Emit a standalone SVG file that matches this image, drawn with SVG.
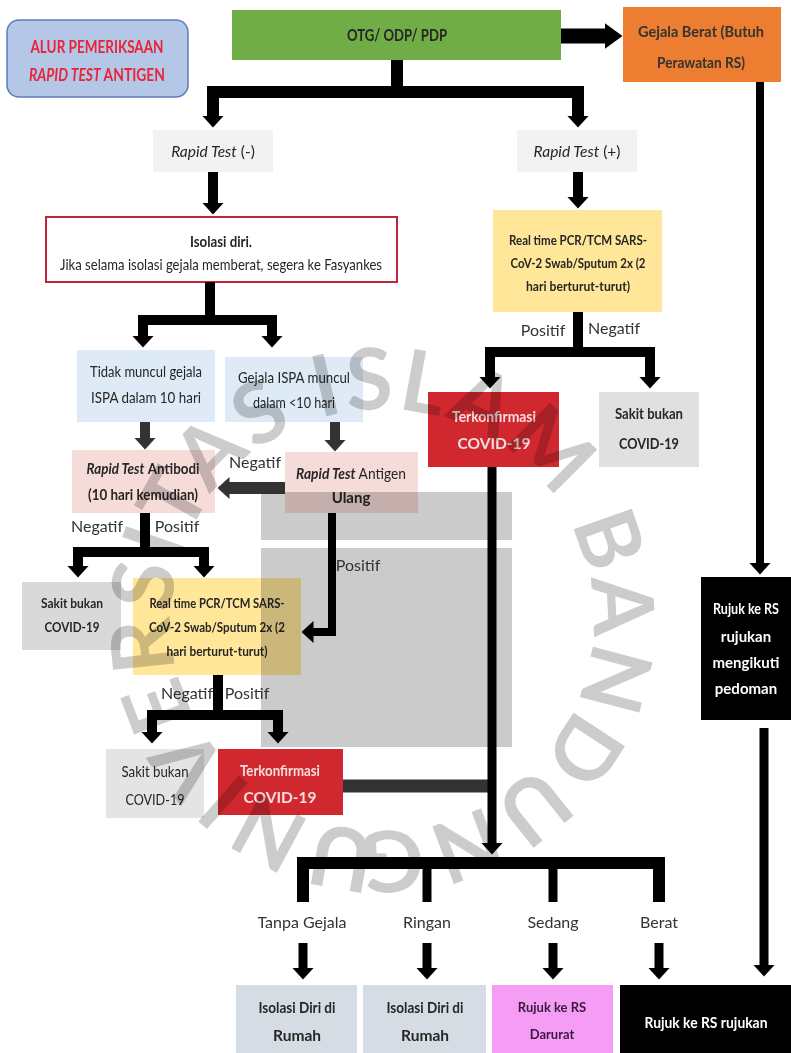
<svg xmlns="http://www.w3.org/2000/svg" width="791" height="1053" viewBox="0 0 791 1053">
<defs>
<style>
text{font-family:Lato,"Liberation Sans",sans-serif;fill:#262626;text-anchor:middle;font-size:14px}
.b{font-weight:bold}
.i{font-style:italic}
.lbl{font-size:16px;fill:#333}
.w{fill:#f6dede;font-weight:bold;font-size:15.5px}
.title{fill:#e8243a;font-weight:bold;font-size:16.5px}
.ln{fill:none;stroke:#000;stroke-width:10;stroke-linejoin:miter}
.dg{stroke:#333}
.ov{fill:#cbcbcb;mix-blend-mode:multiply}
.wm{font-family:Lato,"Liberation Sans",sans-serif;font-weight:bold;font-size:85px;fill:#cccccc;letter-spacing:3px;text-anchor:start;mix-blend-mode:multiply}
</style>
<marker id="ah" viewBox="0 0 12 22" markerWidth="12" markerHeight="22" refX="0.5" refY="11" orient="auto" markerUnits="userSpaceOnUse"><path d="M0,0 L12,11 L0,22 z" fill="#000"/></marker>
<marker id="ahg" viewBox="0 0 12 22" markerWidth="12" markerHeight="22" refX="0.5" refY="11" orient="auto" markerUnits="userSpaceOnUse"><path d="M0,0 L12,11 L0,22 z" fill="#333"/></marker>
<marker id="ahL" viewBox="0 0 18 26" markerWidth="18" markerHeight="26" refX="0.5" refY="13" orient="auto" markerUnits="userSpaceOnUse"><path d="M0,0 L18,13 L0,26 z" fill="#000"/></marker>
<path id="wmc" d="M382,831 A211,211 0 0,1 382,409 A211,211 0 0,1 382,831"/>
</defs>
<rect width="791" height="1053" fill="#fff"/>

<g id="title">
<rect x="7" y="20" width="181" height="77" rx="12" fill="#b4c7e7" stroke="#5b7db5" stroke-width="1.5"/>
<text x="97" y="53" class="title" textLength="133" lengthAdjust="spacingAndGlyphs">ALUR PEMERIKSAAN</text>
<text x="97" y="81" class="title" textLength="136" lengthAdjust="spacingAndGlyphs"><tspan class="i">RAPID TEST</tspan> ANTIGEN</text>
</g>
<g id="otg">
<rect x="232" y="10" width="329" height="50" fill="#70ad47"/>
<text x="397" y="41" class="b" style="font-size:17px" textLength="100" lengthAdjust="spacingAndGlyphs">OTG/ ODP/ PDP</text>
</g>
<g id="gejala-berat">
<rect x="623" y="7" width="158" height="75" fill="#ed7d31"/>
<text x="701" y="37" class="b" style="font-size:16px;fill:#333" textLength="126" lengthAdjust="spacingAndGlyphs">Gejala Berat (Butuh</text>
<text x="701" y="68" class="b" style="font-size:16px;fill:#333" textLength="88" lengthAdjust="spacingAndGlyphs">Perawatan RS)</text>
</g>
<g id="rapid-neg">
<rect x="153" y="130" width="120" height="42" fill="#f2f2f2"/>
<text x="213" y="157" style="font-size:15.5px"><tspan class="i">Rapid Test</tspan> (-)</text>
</g>
<g id="rapid-pos">
<rect x="517" y="130" width="120" height="42" fill="#f2f2f2"/>
<text x="577" y="157" style="font-size:15.5px"><tspan class="i">Rapid Test</tspan> (+)</text>
</g>
<g id="isolasi">
<rect x="46" y="217" width="351" height="65" fill="#fff" stroke="#c0263a" stroke-width="2"/>
<text x="221" y="247" class="b" style="font-size:15px" textLength="62" lengthAdjust="spacingAndGlyphs">Isolasi diri.</text>
<text x="221" y="270" style="font-size:15px" textLength="322" lengthAdjust="spacingAndGlyphs">Jika selama isolasi gejala memberat, segera ke Fasyankes</text>
</g>
<g id="tidak-muncul">
<rect x="77" y="350" width="138" height="72" fill="#deebf7"/>
<text x="146" y="377" style="font-size:15px" textLength="112" lengthAdjust="spacingAndGlyphs">Tidak muncul gejala</text>
<text x="146" y="403" style="font-size:15px" textLength="110" lengthAdjust="spacingAndGlyphs">ISPA dalam 10 hari</text>
</g>
<g id="gejala-ispa">
<rect x="225" y="357" width="138" height="65" fill="#deebf7"/>
<text x="294" y="383" style="font-size:15px" textLength="112" lengthAdjust="spacingAndGlyphs">Gejala ISPA muncul</text>
<text x="294" y="408" style="font-size:15px" textLength="82" lengthAdjust="spacingAndGlyphs">dalam &lt;10 hari</text>
</g>
<g id="antibodi">
<rect x="72" y="450" width="143" height="63" fill="#f6dcd8"/>
<text x="143" y="474" style="font-size:15px" textLength="113" lengthAdjust="spacingAndGlyphs"><tspan class="i b">Rapid Test</tspan> <tspan class="b">Antibodi</tspan></text>
<text x="143" y="500" class="b" style="font-size:15px" textLength="110" lengthAdjust="spacingAndGlyphs">(10 hari kemudian)</text>
</g>
<g id="antigen">
<rect x="285" y="452" width="133" height="61" fill="#f6dcd8"/>
<text x="351" y="479" style="font-size:15px" textLength="110" lengthAdjust="spacingAndGlyphs"><tspan class="i b">Rapid Test</tspan> Antigen</text>
<text x="351" y="503" class="b" style="font-size:15px">Ulang</text>
</g>
<g id="pcr-right">
<rect x="493" y="210" width="169" height="102" fill="#ffe699"/>
<text x="578" y="245" class="b" style="font-size:14px" textLength="138" lengthAdjust="spacingAndGlyphs">Real time PCR/TCM SARS-</text>
<text x="578" y="268" class="b" style="font-size:14px" textLength="135" lengthAdjust="spacingAndGlyphs">CoV-2 Swab/Sputum 2x (2</text>
<text x="578" y="291" class="b" style="font-size:14px" textLength="104" lengthAdjust="spacingAndGlyphs">hari berturut-turut)</text>
</g>
<g id="terkonfirmasi-right">
<rect x="428" y="392" width="131" height="75" fill="#d0282e"/>
<text x="494" y="422" class="w" textLength="84" lengthAdjust="spacingAndGlyphs">Terkonfirmasi</text>
<text x="494" y="449" class="w">COVID-19</text>
</g>
<g id="sakit-right">
<rect x="599" y="392" width="100" height="75" fill="#e0e0e0"/>
<text x="649" y="419" class="b" style="font-size:15px" textLength="68" lengthAdjust="spacingAndGlyphs">Sakit bukan</text>
<text x="649" y="449" class="b" style="font-size:15px" textLength="60" lengthAdjust="spacingAndGlyphs">COVID-19</text>
</g>
<g id="sakit-left">
<rect x="22" y="582" width="99" height="68" fill="#d9d9d9"/>
<text x="72" y="608" class="b" style="font-size:14px" textLength="62" lengthAdjust="spacingAndGlyphs">Sakit bukan</text>
<text x="72" y="632" class="b" style="font-size:14px" textLength="55" lengthAdjust="spacingAndGlyphs">COVID-19</text>
</g>
<g id="pcr-left">
<rect x="133" y="578" width="168" height="97" fill="#ffe699"/>
<text x="217" y="608" class="b" style="font-size:14px" textLength="135" lengthAdjust="spacingAndGlyphs">Real time PCR/TCM SARS-</text>
<text x="217" y="632" class="b" style="font-size:14px" textLength="136" lengthAdjust="spacingAndGlyphs">CoV-2 Swab/Sputum 2x (2</text>
<text x="217" y="656" class="b" style="font-size:14px" textLength="101" lengthAdjust="spacingAndGlyphs">hari berturut-turut)</text>
</g>
<g id="sakit-lower">
<rect x="106" y="749" width="98" height="69" fill="#e4e4e4"/>
<text x="155" y="777" style="font-size:15px" textLength="67" lengthAdjust="spacingAndGlyphs">Sakit bukan</text>
<text x="155" y="805" style="font-size:15px" textLength="59" lengthAdjust="spacingAndGlyphs">COVID-19</text>
</g>
<g id="terkonfirmasi-lower">
<rect x="218" y="749" width="125" height="66" fill="#d0282e"/>
<text x="280" y="776" class="w" textLength="80" lengthAdjust="spacingAndGlyphs">Terkonfirmasi</text>
<text x="280" y="803" class="w">COVID-19</text>
</g>
<g id="rujuk-pedoman">
<rect x="701" y="577" width="90" height="143" fill="#000"/>
<text x="746" y="614" class="w" style="fill:#fff;font-size:15px" textLength="66" lengthAdjust="spacingAndGlyphs">Rujuk ke RS</text>
<text x="746" y="642" class="w" style="fill:#fff;font-size:15px">rujukan</text>
<text x="746" y="668" class="w" style="fill:#fff;font-size:15px">mengikuti</text>
<text x="746" y="694" class="w" style="fill:#fff;font-size:15px">pedoman</text>
</g>
<g id="isolasi-rumah-1">
<rect x="236" y="985" width="121" height="68" fill="#d6dce4"/>
<text x="297" y="1013" class="b" style="font-size:15.5px" textLength="77" lengthAdjust="spacingAndGlyphs">Isolasi Diri di</text>
<text x="297" y="1041" class="b" style="font-size:15.5px">Rumah</text>
</g>
<g id="isolasi-rumah-2">
<rect x="363" y="985" width="123" height="68" fill="#d6dce4"/>
<text x="425" y="1013" class="b" style="font-size:15.5px" textLength="77" lengthAdjust="spacingAndGlyphs">Isolasi Diri di</text>
<text x="425" y="1041" class="b" style="font-size:15.5px">Rumah</text>
</g>
<g id="rujuk-darurat">
<rect x="492" y="985" width="121" height="68" fill="#f59cf5"/>
<text x="552" y="1012" class="b" style="font-size:13px;fill:#3a1a3a">Rujuk ke RS</text>
<text x="552" y="1039" class="b" style="font-size:13px;fill:#3a1a3a">Darurat</text>
</g>
<g id="rujuk-rujukan">
<rect x="620" y="985" width="171" height="68" fill="#000"/>
<text x="706" y="1028" class="w" style="fill:#fff;font-size:16px" textLength="123" lengthAdjust="spacingAndGlyphs">Rujuk ke RS rujukan</text>
</g>

<g id="overlay">
<rect x="261" y="492" width="251" height="48" class="ov"/>
<rect x="261" y="548" width="251" height="199" class="ov"/>
</g>

<g id="connectors">
<path class="ln" d="M561,36 H605" style="stroke-width:15" marker-end="url(#ahL)"/>
<path class="ln" d="M397,60 V92 H213 V116" style="stroke-width:12" marker-end="url(#ah)"/>
<path class="ln" d="M397,92 H578 V116" style="stroke-width:12" marker-end="url(#ah)"/>
<path class="ln" d="M213,172 V203" marker-end="url(#ah)"/>
<path class="ln" d="M578,172 V197" marker-end="url(#ah)"/>
<path class="ln" d="M760,82 V563" style="stroke-width:8" marker-end="url(#ah)"/>
<path class="ln" d="M210,282 V320 H143 V336" marker-end="url(#ah)"/>
<path class="ln" d="M210,320 H272 V336" marker-end="url(#ah)"/>
<path class="ln dg" d="M145,422 V438" marker-end="url(#ahg)"/>
<path class="ln dg" d="M335,422 V440" marker-end="url(#ahg)"/>
<path class="ln dg" d="M285,488 H229" style="stroke-width:12" marker-end="url(#ahg)"/>
<path class="ln" d="M145,513 V552 H78 V566" marker-end="url(#ah)"/>
<path class="ln" d="M145,552 H204 V566" marker-end="url(#ah)"/>
<path class="ln" d="M332,513 V632 H313" style="stroke-width:8" marker-end="url(#ah)"/>
<path class="ln" d="M218,675 V715 H152 V732" marker-end="url(#ah)"/>
<path class="ln" d="M218,715 H278 V732" marker-end="url(#ah)"/>
<path class="ln dg" d="M343,786 H492" style="stroke-width:13"/>
<path class="ln" d="M492,467 V843" style="stroke-width:9" marker-end="url(#ah)"/>
<path class="ln" d="M578,312 V352 H490 V377" marker-end="url(#ah)"/>
<path class="ln" d="M578,352 H650 V377" marker-end="url(#ah)"/>
<path class="ln" d="M303,902 V863 H659 V902" style="stroke-width:12"/>
<path class="ln" d="M427,863 V902" style="stroke-width:9"/>
<path class="ln" d="M553,863 V902" style="stroke-width:9"/>
<path class="ln" d="M303,943 V968" style="stroke-width:9" marker-end="url(#ah)"/>
<path class="ln" d="M427,943 V968" style="stroke-width:9" marker-end="url(#ah)"/>
<path class="ln" d="M553,943 V968" style="stroke-width:9" marker-end="url(#ah)"/>
<path class="ln" d="M659,943 V968" style="stroke-width:9" marker-end="url(#ah)"/>
<path class="ln" d="M764,728 V965" style="stroke-width:9" marker-end="url(#ah)"/>
</g>

<g id="labels">
<text x="255" y="468" class="lbl">Negatif</text>
<text x="97" y="532" class="lbl">Negatif</text>
<text x="177" y="532" class="lbl">Positif</text>
<text x="358" y="571" class="lbl">Positif</text>
<text x="187" y="699" class="lbl">Negatif</text>
<text x="247" y="699" class="lbl">Positif</text>
<text x="543" y="336" class="lbl">Positif</text>
<text x="614" y="334" class="lbl">Negatif</text>
<text x="302" y="928" class="lbl">Tanpa Gejala</text>
<text x="427" y="928" class="lbl">Ringan</text>
<text x="553" y="928" class="lbl">Sedang</text>
<text x="659" y="928" class="lbl">Berat</text>
</g>

<g id="watermark">
<text class="wm"><textPath href="#wmc" startOffset="4">UNIVERSITAS ISLAM BANDUNG</textPath></text>
</g>
</svg>
